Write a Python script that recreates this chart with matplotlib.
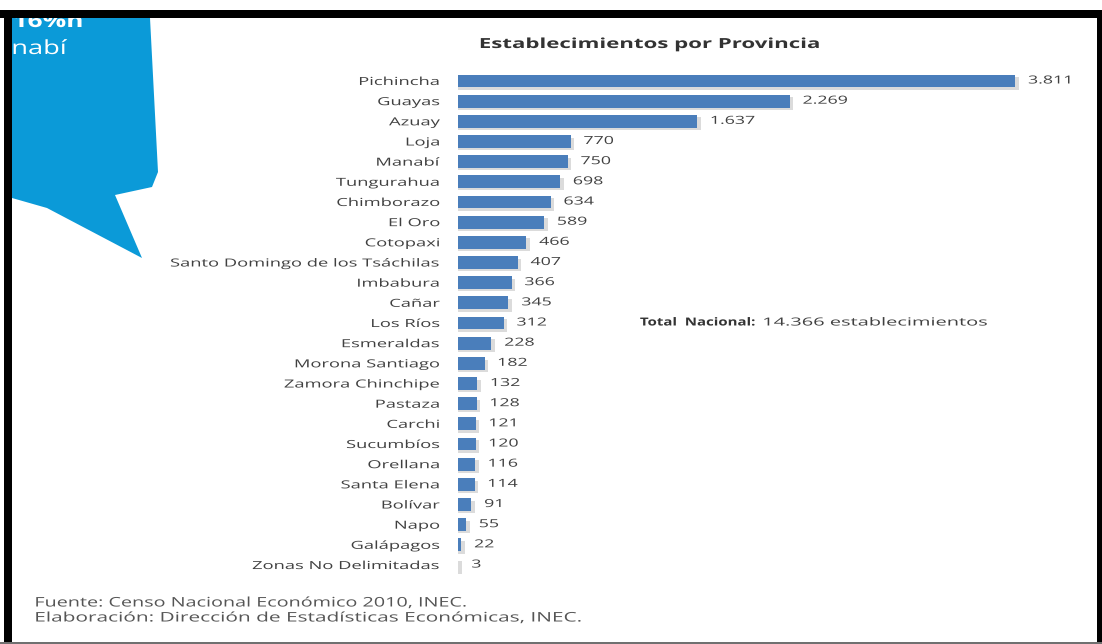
import matplotlib.pyplot as plt
from matplotlib.patches import Polygon, Rectangle
from matplotlib.patheffects import AbstractPathEffect
from matplotlib.transforms import Affine2D

provincias = ["Pichincha", "Guayas", "Azuay", "Loja", "Manabí", "Tungurahua",
              "Chimborazo", "El Oro", "Cotopaxi", "Santo Domingo de los Tsáchilas",
              "Imbabura", "Cañar", "Los Ríos", "Esmeraldas", "Morona Santiago",
              "Zamora Chinchipe", "Pastaza", "Carchi", "Sucumbíos", "Orellana",
              "Santa Elena", "Bolívar", "Napo", "Galápagos", "Zonas No Delimitadas"]
establecimientos = [3811, 2269, 1637, 770, 750, 698, 634, 589, 466, 407, 366, 345,
                    312, 228, 182, 132, 128, 121, 120, 116, 114, 91, 55, 22, 3]
total_nacional = 14366

plt.rcParams['font.family'] = ['Open Sans', 'DejaVu Sans']


class Stretch(AbstractPathEffect):
    """Widen glyphs horizontally around a fixed point (0 left, 0.5 centre, 1 right)."""

    def __init__(self, sx, anchor=0.0):
        super().__init__()
        self.sx = sx
        self.anchor = anchor

    def draw_path(self, renderer, gc, tpath, affine, rgbFace=None):
        ext = tpath.get_extents()
        xa = ext.x0 + self.anchor * ext.width
        t = Affine2D().translate(-xa, 0).scale(self.sx, 1).translate(xa, 0) + affine
        renderer.draw_path(gc, tpath, t, rgbFace)


W, H = 1102, 644
fig = plt.figure(figsize=(W / 100, H / 100), dpi=100)
fig.patch.set_facecolor('white')


def fx(px):
    return px / W


def fy(py):
    return 1 - py / H


# speech bubble in the corner
bubble = [(12, 18), (150, 18), (158, 172), (152, 187), (115, 195),
          (142, 258), (47, 208), (12, 198)]
fig.patches.append(Polygon([(fx(x), fy(y)) for x, y in bubble], closed=True,
                           transform=fig.transFigure, facecolor='#0b9ad8',
                           edgecolor='none', zorder=1))
fig.text(fx(13), fy(22), "16%h", color='white', fontsize=14, fontweight='bold',
         va='center', ha='left', zorder=2, path_effects=[Stretch(1.35, 0)])
fig.text(fx(12), fy(49), "nabí", color='white', fontsize=14,
         va='center', ha='left', zorder=2, path_effects=[Stretch(1.4, 0)])

# black frame
fig.patches.append(Rectangle((fx(0), fy(18)), 1, 8 / H, transform=fig.transFigure,
                             facecolor='black', edgecolor='none', zorder=5))
fig.patches.append(Rectangle((fx(4), fy(644)), 8 / W, 634 / H, transform=fig.transFigure,
                             facecolor='black', edgecolor='none', zorder=5))
fig.patches.append(Rectangle((fx(1097), fy(644)), 5 / W, 634 / H, transform=fig.transFigure,
                             facecolor='black', edgecolor='none', zorder=5))
fig.patches.append(Rectangle((0, 0), 1, 2 / H, transform=fig.transFigure,
                             facecolor='#707070', edgecolor='none', zorder=5))

# bar chart
x0, x1 = 458, 458 + 4000 * 0.1462
y_top, y_bot = 70.9, 575.1
ax = fig.add_axes([fx(x0), fy(y_bot), (x1 - x0) / W, (y_bot - y_top) / H])
ax.set_facecolor('none')

pos = list(range(len(provincias)))
ax.barh([p + 0.12 for p in pos], [v + 25 for v in establecimientos], height=0.62,
        color='#c4c4c4', alpha=0.6, zorder=1)
ax.barh(pos, establecimientos, height=0.64, color='#4a7ebb', zorder=2)

for p, v in zip(pos, establecimientos):
    ax.text(v + 90, p, f"{v:,}".replace(",", "."), va='center', ha='left',
            fontsize=8, color='#404040', path_effects=[Stretch(1.6, 0)])

ax.set_xlim(0, 4000)
ax.set_ylim(len(provincias) - 0.5, -0.5)
ax.set_yticks(pos)
ax.set_yticklabels(provincias, fontsize=8, color='#404040')
for lbl in ax.get_yticklabels():
    lbl.set_path_effects([Stretch(1.65, 1)])
ax.tick_params(axis='y', length=0, pad=13)
ax.set_xticks([])
for s in ax.spines.values():
    s.set_visible(False)

fig.text(fx(650), fy(44), "Establecimientos por Provincia", fontsize=10,
         fontweight='bold', ha='center', va='center', color='#333333',
         path_effects=[Stretch(1.6, 0.5)])

fig.text(fx(640), fy(323), "Total  Nacional:", fontsize=8, fontweight='bold',
         ha='left', va='center', color='#333333', path_effects=[Stretch(1.35, 0)])
fig.text(fx(763), fy(323), f"{total_nacional:,}".replace(",", ".") + " establecimientos",
         fontsize=8, ha='left', va='center', color='#404040',
         path_effects=[Stretch(1.8, 0)])

fig.text(fx(35), fy(603), "Fuente: Censo Nacional Económico 2010, INEC.",
         fontsize=9.5, ha='left', va='center', color='#555555',
         path_effects=[Stretch(1.5, 0)])
fig.text(fx(35), fy(618), "Elaboración: Dirección de Estadísticas Económicas, INEC.",
         fontsize=9.5, ha='left', va='center', color='#555555',
         path_effects=[Stretch(1.58, 0)])

fig.savefig('out.png', dpi=100, facecolor='white')
